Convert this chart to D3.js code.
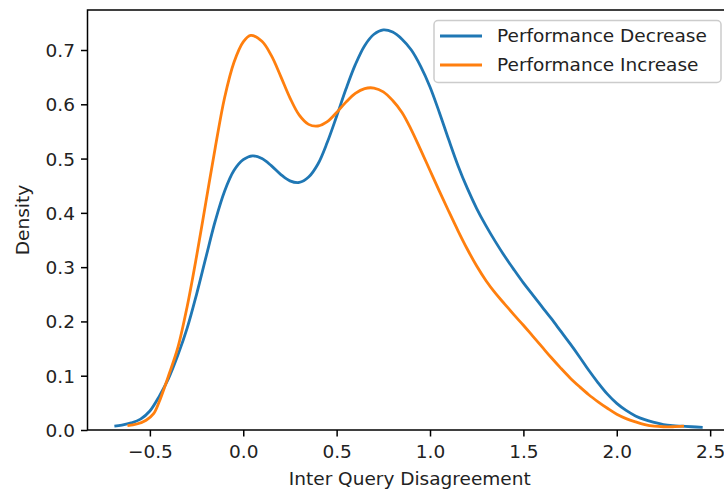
<!DOCTYPE html>
<html>
<head>
<meta charset="utf-8">
<script src="https://cdn.jsdelivr.net/npm/d3@7"></script>
<style>
  html, body { margin: 0; padding: 0; background: #fff; }
  text { font-family: "DejaVu Sans", sans-serif; }
</style>
</head>
<body>
<svg id="chart" width="724" height="493"></svg>
<script>
// ---- data ----
const seriesNames = ["Performance Decrease", "Performance Increase"];
const seriesColors = ["#1f77b4", "#ff7f0e"];

const decreaseX = [-0.69,-0.65,-0.6,-0.55,-0.5,-0.45,-0.4,-0.35,-0.3,-0.25,-0.2,-0.15,-0.1,-0.05,0.0,0.05,0.1,0.15,0.2,0.25,0.3,0.35,0.4,0.45,0.5,0.55,0.6,0.65,0.7,0.75,0.8,0.85,0.9,0.95,1.0,1.05,1.1,1.15,1.2,1.25,1.3,1.35,1.4,1.45,1.5,1.55,1.6,1.65,1.7,1.75,1.8,1.85,1.9,1.95,2.0,2.05,2.1,2.15,2.2,2.25,2.3,2.35,2.4,2.46];
const decreaseY = [0.007,0.009,0.013,0.02,0.035,0.062,0.095,0.138,0.188,0.25,0.318,0.385,0.44,0.478,0.498,0.505,0.5,0.487,0.471,0.459,0.456,0.466,0.49,0.53,0.578,0.628,0.673,0.708,0.729,0.737,0.733,0.72,0.70,0.67,0.632,0.585,0.535,0.487,0.445,0.408,0.376,0.347,0.32,0.295,0.271,0.249,0.227,0.205,0.182,0.159,0.135,0.11,0.087,0.066,0.049,0.036,0.026,0.019,0.014,0.01,0.008,0.007,0.006,0.005];

const increaseX = [-0.62,-0.57,-0.52,-0.48,-0.45,-0.42,-0.4,-0.35,-0.3,-0.25,-0.2,-0.15,-0.1,-0.05,0.0,0.04,0.1,0.15,0.2,0.25,0.3,0.35,0.4,0.45,0.5,0.55,0.6,0.65,0.7,0.75,0.8,0.85,0.9,0.95,1.0,1.05,1.1,1.15,1.2,1.25,1.3,1.35,1.4,1.45,1.5,1.55,1.6,1.65,1.7,1.75,1.8,1.85,1.9,1.95,2.0,2.05,2.1,2.15,2.2,2.25,2.3,2.36];
const increaseY = [0.008,0.011,0.018,0.03,0.052,0.08,0.1,0.152,0.228,0.32,0.42,0.52,0.612,0.677,0.715,0.727,0.716,0.69,0.652,0.612,0.58,0.563,0.56,0.568,0.585,0.604,0.62,0.629,0.63,0.623,0.607,0.585,0.553,0.516,0.478,0.44,0.403,0.367,0.333,0.302,0.275,0.252,0.232,0.212,0.193,0.173,0.153,0.133,0.114,0.096,0.08,0.065,0.052,0.04,0.029,0.021,0.015,0.01,0.007,0.006,0.006,0.007];

const xTicks = [-0.5, 0.0, 0.5, 1.0, 1.5, 2.0, 2.5];
const yTicks = [0.0, 0.1, 0.2, 0.3, 0.4, 0.5, 0.6, 0.7];
const xLabel = "Inter Query Disagreement";
const yLabel = "Density";

// ---- layout ----
const plotLeft = 87.5, plotRight = 732, plotTop = 10, plotBottom = 430;
const svg = d3.select("#chart");
svg.append("rect").attr("width", 724).attr("height", 493).attr("fill", "#fff");

const x = d3.scaleLinear().domain([-0.834, 2.617]).range([plotLeft, plotRight]);
const y = d3.scaleLinear().domain([0, 0.7737]).range([plotBottom, plotTop]);

const fontSize = 18.5;
const textColor = "#222";

// curves
const series = [
  { name: seriesNames[0], color: seriesColors[0], xs: decreaseX, ys: decreaseY },
  { name: seriesNames[1], color: seriesColors[1], xs: increaseX, ys: increaseY }
];
const line = d3.line().x(d => x(d[0])).y(d => y(d[1])).curve(d3.curveCatmullRom.alpha(0.5));
series.forEach(s => {
  const pts = s.xs.map((v, i) => [v, s.ys[i]]);
  svg.append("path").datum(pts)
    .attr("d", line)
    .attr("fill", "none")
    .attr("stroke", s.color)
    .attr("stroke-width", 2.8)
    .attr("stroke-linecap", "butt")
    .attr("stroke-linejoin", "round");
});

// axes
const xAxis = d3.axisBottom(x).tickValues(xTicks).tickFormat(d3.format(".1f")).tickSize(6.5).tickPadding(6);
const gx = svg.append("g").attr("transform", `translate(0,${plotBottom})`).call(xAxis);
const yAxis = d3.axisLeft(y).tickValues(yTicks).tickFormat(d3.format(".1f")).tickSize(6.5).tickPadding(6);
const gy = svg.append("g").attr("transform", `translate(${plotLeft},0)`).call(yAxis);
[gx, gy].forEach(g => {
  g.select(".domain").remove();
  g.selectAll(".tick line").attr("stroke", "#000").attr("stroke-width", 1.5);
  g.selectAll(".tick text").attr("fill", textColor).style("font-size", fontSize + "px").style("font-family", "DejaVu Sans");
});
gx.selectAll(".tick text").attr("dy", null).attr("y", 28);
gy.selectAll(".tick text").attr("dy", "0.35em");

// spines
svg.append("rect")
  .attr("x", plotLeft).attr("y", plotTop)
  .attr("width", plotRight - plotLeft).attr("height", plotBottom - plotTop)
  .attr("fill", "none").attr("stroke", "#000").attr("stroke-width", 1.5);

// axis labels
svg.append("text")
  .attr("x", (plotLeft + plotRight) / 2).attr("y", 485)
  .attr("text-anchor", "middle")
  .attr("fill", textColor).style("font-size", fontSize + "px")
  .text(xLabel);
svg.append("text")
  .attr("transform", `translate(29,${(plotTop + plotBottom) / 2}) rotate(-90)`)
  .attr("text-anchor", "middle")
  .attr("fill", textColor).style("font-size", fontSize + "px")
  .text(yLabel);

// legend
const lg = svg.append("g");
lg.append("rect")
  .attr("x", 434).attr("y", 20.5).attr("width", 287).attr("height", 62)
  .attr("rx", 4).attr("ry", 4)
  .attr("fill", "#fff").attr("fill-opacity", 0.8)
  .attr("stroke", "#ccc").attr("stroke-width", 1.5);
series.forEach((s, i) => {
  const cy = 36 + i * 29;
  lg.append("line")
    .attr("x1", 440).attr("x2", 482)
    .attr("y1", cy).attr("y2", cy)
    .attr("stroke", s.color).attr("stroke-width", 2.8);
  lg.append("text")
    .attr("x", 497).attr("y", cy + 6)
    .attr("fill", textColor).style("font-size", fontSize + "px")
    .text(s.name);
});
</script>
</body>
</html>
